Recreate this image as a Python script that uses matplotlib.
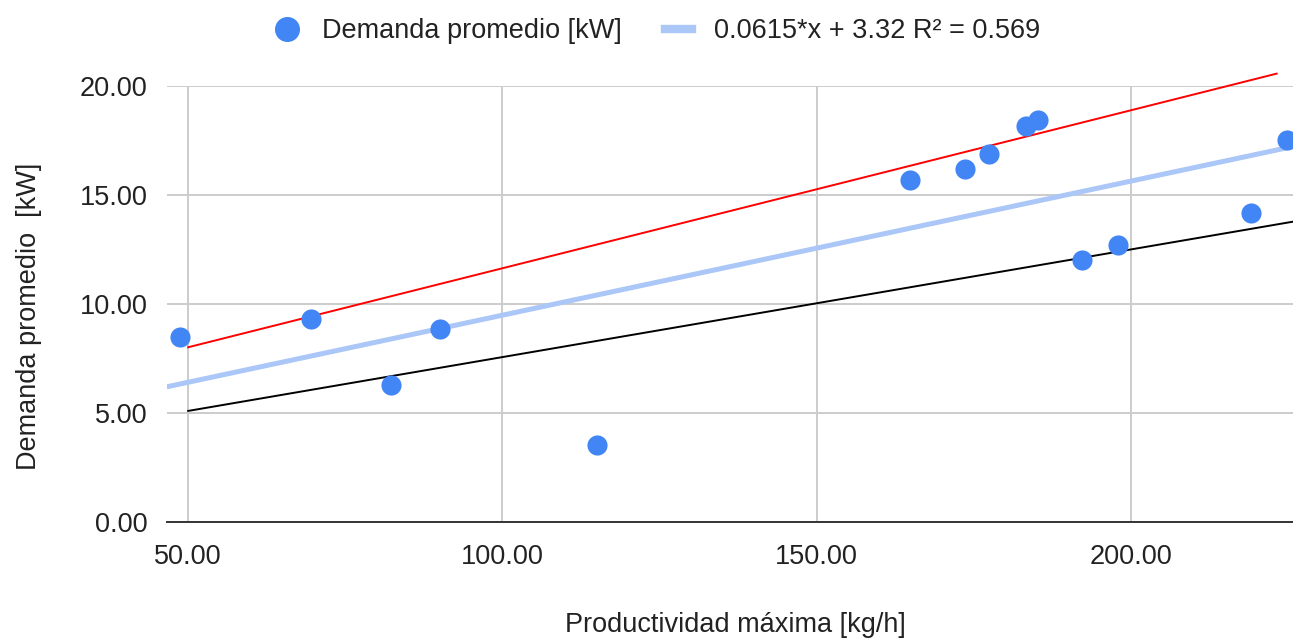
import numpy as np
import matplotlib.pyplot as plt
from matplotlib.lines import Line2D

plt.rcParams['font.family'] = ['Liberation Sans', 'DejaVu Sans']

# data
prod_max = [48.7, 69.6, 82.3, 90.1, 115.0, 164.8, 173.6, 177.4, 183.3, 185.2, 192.2, 198.0, 219.1, 224.8]
demanda = [8.48, 9.31, 6.27, 8.85, 3.50, 15.67, 16.18, 16.87, 18.16, 18.43, 11.98, 12.67, 14.15, 17.51]

trend_slope = 0.0615
trend_icpt = 3.32

upper_x = [50.0, 223.2]
upper_y = [8.0, 20.55]
lower_x = [50.0, 225.8]
lower_y = [5.08, 13.76]

xmin, xmax = 46.6, 225.8
fs = 19.5

fig = plt.figure(figsize=(12.93, 6.39), dpi=100)
ax = fig.add_axes([0.129, 0.1836, 0.871, 0.6824])

ax.set_xlim(xmin, xmax)
ax.set_ylim(0, 20)
ax.set_xticks([50, 100, 150, 200])
ax.set_yticks([0, 5, 10, 15, 20])
ax.set_xticklabels(['%.2f' % v for v in [50, 100, 150, 200]])
ax.set_yticklabels(['%.2f' % v for v in [0, 5, 10, 15, 20]])
ax.grid(True, color='#cccccc', linewidth=1.4)
ax.set_axisbelow(True)
for s in ['top', 'right', 'left']:
	ax.spines[s].set_visible(False)
ax.spines['bottom'].set_color('#333333')
ax.spines['bottom'].set_linewidth(1.4)
ax.tick_params(length=0, labelsize=fs, colors='#222222')
ax.tick_params(axis='x', pad=16)
ax.tick_params(axis='y', pad=14)

tx = np.array([xmin, xmax])
ax.plot(tx, trend_slope*tx + trend_icpt, color='#aac7f7', lw=3.6, zorder=2, solid_capstyle='butt')
ax.plot(upper_x, upper_y, color='red', lw=1.4, zorder=3, clip_on=False)
ax.plot(lower_x, lower_y, color='black', lw=1.4, zorder=3)
ax.scatter(prod_max, demanda, s=210, color='#4285f4', zorder=4, clip_on=False, linewidths=0)

ax.set_xlabel('Productividad máxima [kg/h]', fontsize=fs, color='#222222', va='center')
ax.set_ylabel('Demanda promedio  [kW]', fontsize=fs, color='#222222', va='center')
ax.xaxis.set_label_coords(0.505, -0.237)
ax.yaxis.set_label_coords(-0.122, 0.47)

handles = [
	Line2D([], [], marker='o', ls='', color='#4285f4', markersize=17),
	Line2D([], [], color='#aac7f7', lw=6),
]
fig.legend(handles, ['Demanda promedio [kW]', '0.0615*x + 3.32 R² = 0.569'],
	loc='upper center', bbox_to_anchor=(0.508, 1.01), ncol=2, frameon=False,
	fontsize=fs, handlelength=1.0, columnspacing=1.6, handletextpad=0.8, labelcolor='#222222')

fig.savefig('out.png', dpi=100)
